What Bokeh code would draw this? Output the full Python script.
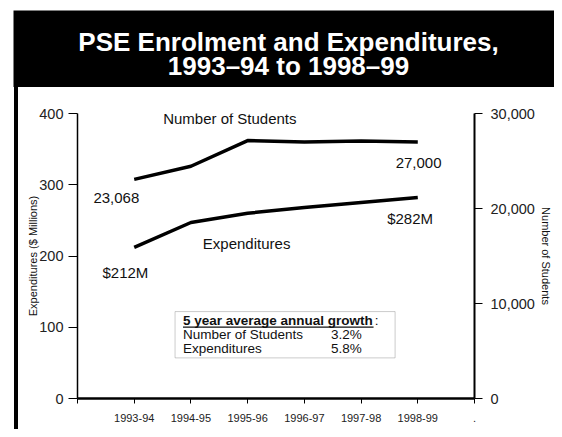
from bokeh.plotting import figure
from bokeh.models import Range1d, LinearAxis, FixedTicker, Label, BoxAnnotation, NumeralTickFormatter, Div
from bokeh.layouts import column, row
from bokeh.embed import file_html
from bokeh.resources import INLINE

# ---- data ----
years = ["1993-94", "1994-95", "1995-96", "1996-97", "1997-98", "1998-99"]
students = [23068, 24450, 27150, 27000, 27100, 27000]
expenditures = [212, 247, 260, 268, 275, 282]
left_ticks = [0, 100, 200, 300, 400]
right_ticks = [0, 10000, 20000, 30000]
growth_rows = ["Number of Students", "Expenditures"]
growth_vals = ["3.2%", "5.8%"]
title_lines = ["PSE Enrolment and Expenditures,", "1993\u201394 to 1998\u201399"]

FONT = "Liberation Sans"
x_pos = list(range(1, len(years) + 1))

# ---- title banner ----
banner = figure(width=554, height=87, x_range=Range1d(13, 554), y_range=Range1d(87, 10),
                x_axis_type=None, y_axis_type=None, output_backend="svg", toolbar_location=None,
                min_border_left=13, min_border_top=10, min_border_right=0, min_border_bottom=0)
banner.background_fill_color = "black"
banner.border_fill_color = "white"
banner.outline_line_color = None
banner.xgrid.visible = False
banner.ygrid.visible = False
for txt, yy in zip(title_lines, [41, 65]):
    banner.add_layout(Label(x=288, y=yy, text=txt, text_font=FONT, text_font_size="26px",
                            text_font_style="bold", text_color="white",
                            text_align="center", text_baseline="middle"))

# ---- left black bar ----
bar = Div(text='<div style="width:4px;height:342px;background:#000;margin:0;padding:0"></div>',
          width=4, height=342, margin=(0, 1, 0, 14))

# ---- chart ----
p = figure(width=535, height=342, x_range=Range1d(0, 7), y_range=Range1d(0, 400),
           output_backend="svg", toolbar_location=None,
           min_border_left=58, min_border_right=79, min_border_top=26, min_border_bottom=31)
p.outline_line_color = None
p.xgrid.visible = False
p.ygrid.visible = False
p.background_fill_color = "white"
p.border_fill_color = "white"

# left axis
ya = p.yaxis[0]
ya.ticker = FixedTicker(ticks=left_ticks)
ya.major_tick_out = 9
ya.major_tick_in = 0
ya.minor_tick_out = 0
ya.minor_tick_in = 0
ya.axis_line_width = 1.5
ya.major_tick_line_width = 1
ya.major_label_text_font = FONT
ya.major_label_text_font_size = "14.5px"
ya.major_label_text_color = "#222222"
ya.major_label_standoff = 5
ya.axis_label = "Expenditures ($ Millions)"
ya.axis_label_text_font = FONT
ya.axis_label_text_font_size = "11px"
ya.axis_label_text_font_style = "normal"
ya.axis_label_text_color = "#111111"
ya.axis_label_standoff = -3

# x axis
xa = p.xaxis[0]
overrides = {0: ""}
for i, y in zip(x_pos, years):
    overrides[i] = y
overrides[7] = "."
xa.ticker = FixedTicker(ticks=list(range(0, 8)))
xa.major_label_overrides = overrides
xa.major_tick_out = 5
xa.major_tick_in = 0
xa.minor_tick_out = 0
xa.minor_tick_in = 0
xa.axis_line_width = 2.5
xa.major_label_text_font = FONT
xa.major_label_text_font_size = "11px"
xa.major_label_text_color = "#222222"
xa.major_label_standoff = 10

# right axis
p.extra_y_ranges = {"students": Range1d(0, 30000)}
ra = LinearAxis(y_range_name="students", ticker=FixedTicker(ticks=right_ticks),
                formatter=NumeralTickFormatter(format="0,0"))
ra.major_tick_out = 8
ra.major_tick_in = 0
ra.minor_tick_out = 0
ra.minor_tick_in = 0
ra.axis_line_width = 2
ra.major_label_text_font = FONT
ra.major_label_text_font_size = "14.5px"
ra.major_label_text_color = "#222222"
ra.major_label_standoff = 8
ra.axis_label = "Number of Students"
ra.axis_label_text_font = FONT
ra.axis_label_text_font_size = "11px"
ra.axis_label_text_font_style = "normal"
ra.axis_label_text_color = "#111111"
ra.axis_label_standoff = 2
p.add_layout(ra, "right")

# lines
p.line(x_pos, expenditures, line_width=3.5, line_color="black")
p.line(x_pos, students, line_width=3.5, line_color="black", y_range_name="students")

def lab(x, y, text, size="15px", style="normal", align="left"):
    p.add_layout(Label(x=x, y=y, text=text, text_font=FONT, text_font_size=size,
                       text_font_style=style, text_align=align, text_baseline="middle",
                       text_color="#111111"))

lab(1.51, 393, "Number of Students")
lab(0.28, 281, "23,068")
lab(5.61, 331, "27,000")
lab(2.21, 217.5, "Expenditures")
lab(0.44, 177, "$212M")
lab(5.46, 252.6, "$282M")

# growth box
p.add_layout(BoxAnnotation(left=1.72, right=5.6, top=122, bottom=57,
                           fill_color="white", fill_alpha=1.0, level="underlay",
                           line_color="#555555", line_width=1))
hx = 1.86
lab(hx, 109.5, "5 year average annual growth", size="13.5px", style="bold")
p.segment(x0=[hx], y0=[100.3], x1=[hx + 3.36], y1=[100.3], line_color="#111111", line_width=1.3)
lab(hx + 3.38, 109.5, ":", size="13.5px")
for i, (r, v) in enumerate(zip(growth_rows, growth_vals)):
    lab(hx, 89.8 - 19.6 * i, r, size="13.5px")
    lab(4.47, 89.8 - 19.6 * i, v, size="13.5px")

layout = column(banner, row(bar, p, spacing=0), spacing=0)
open("out.html", "w").write(file_html(layout, INLINE))
